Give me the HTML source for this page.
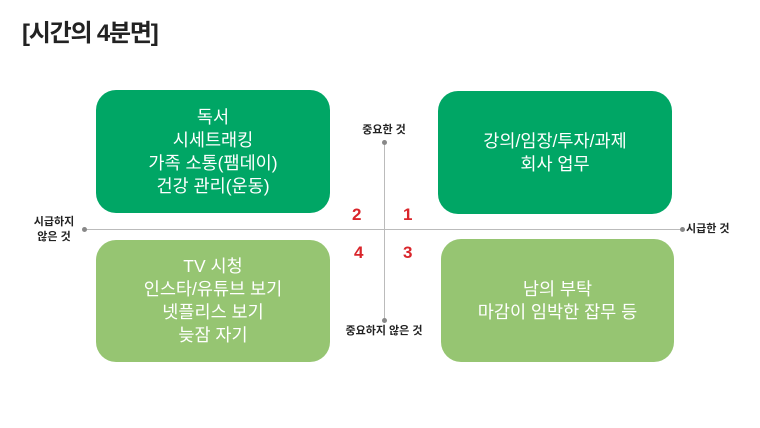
<!DOCTYPE html>
<html><head><meta charset="utf-8"><style>
html,body{margin:0;padding:0;background:#fff;}
body{width:760px;height:428px;position:relative;overflow:hidden;font-family:"Liberation Sans","Noto Sans CJK KR",sans-serif;}
.a{position:absolute;}
.box{position:absolute;border-radius:20px;color:#fff;font-size:17.5px;line-height:23px;display:flex;align-items:center;justify-content:center;text-align:center;}
.dg{background:#00a665;}
.lg{background:#96c572;}
.lbl{position:absolute;font-size:11px;font-weight:bold;color:#222;line-height:15px;text-align:center;}
.num{position:absolute;font-size:17px;font-weight:bold;color:#d9252b;}
.dot{position:absolute;width:5px;height:5px;border-radius:50%;background:#888;}
</style></head><body>
<div class="a" style="left:22px;top:13px;font-size:24px;font-weight:bold;color:#222;letter-spacing:-1.2px;">[시간의 4분면]</div>

<div class="a" style="left:84px;top:229px;width:598px;height:1px;background:#bbb;"></div>
<div class="a" style="left:384px;top:142px;width:1px;height:178px;background:#bbb;"></div>
<div class="dot" style="left:82px;top:227px;"></div>
<div class="dot" style="left:680px;top:227px;"></div>
<div class="dot" style="left:382px;top:140px;"></div>
<div class="dot" style="left:382px;top:318px;"></div>

<div class="box dg" style="left:96px;top:90px;width:234px;height:123px;">독서<br>시세트래킹<br>가족 소통(팸데이)<br>건강 관리(운동)</div>
<div class="box dg" style="left:438px;top:91px;width:234px;height:123px;">강의/임장/투자/과제<br>회사 업무</div>
<div class="box lg" style="left:96px;top:240px;width:234px;height:122px;">TV 시청<br>인스타/유튜브 보기<br>넷플리스 보기<br>늦잠 자기</div>
<div class="box lg" style="left:441px;top:239px;width:233px;height:123px;">남의 부탁<br>마감이 임박한 잡무 등</div>

<div class="lbl" style="left:344px;top:123px;width:80px;">중요한 것</div>
<div class="lbl" style="left:334px;top:324px;width:100px;">중요하지 않은 것</div>
<div class="lbl" style="left:26px;top:215px;width:56px;">시급하지<br>않은 것</div>
<div class="lbl" style="left:686px;top:222px;text-align:left;">시급한 것</div>

<div class="num" style="left:352px;top:205px;">2</div>
<div class="num" style="left:403px;top:205px;">1</div>
<div class="num" style="left:354px;top:243px;">4</div>
<div class="num" style="left:403px;top:243px;">3</div>
</body></html>
